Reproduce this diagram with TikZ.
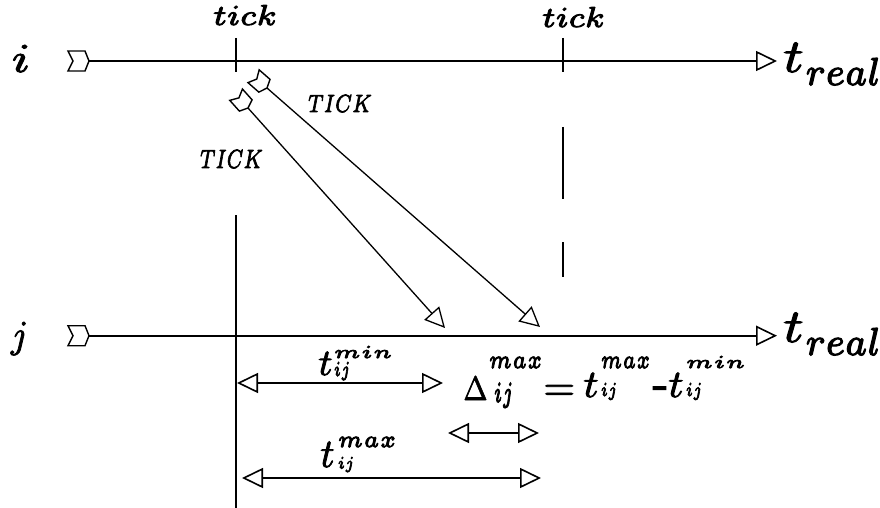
\documentclass[tikz,border=0pt]{standalone}
\usetikzlibrary{arrows.meta}
\newcommand{\rsz}[3]{\resizebox{#1pt}{#2pt}{#3}}
\newcommand{\piece}[3]{\makebox[0pt][l]{\hspace{#1pt}\raisebox{#2pt}{#3}}}
\newcommand{\hv}[1]{\special{pdf:literal direct 2 Tr 0.22 w}#1\special{pdf:literal direct 0 Tr}}
\begin{document}
\begin{tikzpicture}[x=1pt,y=-1pt,
  lbl/.style={inner sep=0pt, outer sep=0pt, anchor=base west},
  axisline/.style={line width=1.6pt, -{Triangle[open,length=21pt,width=20pt]}},
  msg/.style={line width=1.3pt, -{Triangle[open,length=20pt,width=20pt]}},
  dim/.style={line width=1.6pt, {Triangle[open,length=21pt,width=20pt]}-{Triangle[open,length=21pt,width=20pt]}},
  tickline/.style={line width=1.6pt},
  chev/.pic={\draw[line width=1.4pt, fill=white, line join=miter]
     (0,0) -- (-4,-10) -- (-21,-10) -- (-16,0) -- (-21,10) -- (-4,10) -- cycle;}
]
\useasboundingbox (0,0) rectangle (880,508);
\fill[white] (0,0) rectangle (880,508);

% time lines
\coordinate (i0) at (89,61);
\coordinate (i1) at (777,61);
\coordinate (j0) at (89,335.7);
\coordinate (j1) at (777,335.7);
\draw[axisline] (i0) -- (i1);
\draw[axisline] (j0) -- (j1);
\pic at (i0) {chev};
\pic at (j0) {chev};

% tick marks
\coordinate (ta) at (235.7,38);
\coordinate (tb) at (235.7,72);
\coordinate (tc) at (563,38);
\coordinate (td) at (563,72);
\draw[tickline] (ta) -- (tb);
\draw[tickline] (tc) -- (td);

% vertical reference lines
\coordinate (va) at (235.7,215);
\coordinate (vb) at (235.7,508);
\draw[tickline] (va) -- (vb);
\coordinate (da) at (563,127);
\coordinate (db) at (563,277);
\draw[tickline, dash pattern=on 72pt off 43pt] (da) -- (db);

% messages
\coordinate (s1) at (248,108);
\coordinate (e1) at (445,328);
\coordinate (s2) at (267,88);
\coordinate (e2) at (540,327);
\draw[msg] (s1) -- (e1);
\draw[msg] (s2) -- (e2);
\pic[rotate=-48.2, scale=0.85] at (s1) {chev};
\pic[rotate=-41.2, scale=0.85] at (s2) {chev};

% dimension arrows
\coordinate (m0) at (237,383);
\coordinate (m1) at (443,383);
\coordinate (x0) at (242,478);
\coordinate (x1) at (541,478);
\coordinate (d0) at (448,433);
\coordinate (d1) at (539,433);
\draw[dim] (m0) -- (m1);
\draw[dim] (x0) -- (x1);
\draw[dim] (d0) -- (d1);

% labels
\node[lbl] (li) at (12,72) {\hv{\rsz{18}{27}{$i$}}};
\node[lbl] (lj) at (11,347.5) {\hv{\rsz{17}{25.5}{$j$}}};
\node[lbl] (tk1) at (213,25) {\hv{\rsz{64}{20}{$\scriptstyle tick$}}};
\node[lbl] (tk2) at (542,27) {\hv{\rsz{63}{20}{$\scriptstyle tick$}}};
\node[lbl] (TK1) at (308,112) {\hv{\rsz{64}{17}{$\scriptstyle TICK$}}};
\node[lbl] (TK2) at (200,168) {\hv{\rsz{63}{18}{$\scriptstyle TICK$}}};
\node[lbl] (ri) at (783,72) {\hv{\piece{0}{0}{\rsz{20}{29}{$t$}}\piece{22}{-13}{\rsz{75}{27}{$\scriptstyle real$}}}};
\node[lbl] (rj) at (783,342) {\hv{\piece{0}{0}{\rsz{20}{29}{$t$}}\piece{22}{-13}{\rsz{75}{27}{$\scriptstyle real$}}}};

\node[lbl] (tmin) at (318,375) {\hv{\piece{0}{0}{\rsz{14}{23}{$t$}}\piece{15}{17}{\rsz{59}{12}{$\scriptscriptstyle min$}}\piece{15}{-1}{\rsz{17}{14}{$\scriptscriptstyle ij$}}}};
\node[lbl] (tmax) at (320,467) {\hv{\piece{0}{0}{\rsz{14}{25}{$t$}}\piece{17}{20}{\rsz{59}{10}{$\scriptscriptstyle max$}}\piece{17}{-1.6}{\rsz{17}{11.6}{$\scriptscriptstyle ij$}}}};

\node[lbl] (delta) at (463,400) {\hv{%
\piece{0}{0}{\rsz{24}{23}{$\Delta$}}%
\piece{25}{32}{\rsz{54}{11}{$\scriptscriptstyle max$}}%
\piece{30}{-2}{\rsz{20}{19.3}{$\scriptscriptstyle ij$}}%
\piece{80}{0}{\rsz{31.5}{14.9}{$=$}}%
\piece{120}{3}{\rsz{15}{24}{$t$}}%
\piece{137}{32}{\rsz{50}{11}{$\scriptscriptstyle max$}}%
\piece{137}{4}{\rsz{17}{13}{$\scriptscriptstyle ij$}}%
\piece{189}{1.5}{\resizebox{16pt}{!}{-}}%
\piece{205}{3}{\rsz{15}{24}{$t$}}%
\piece{222}{32}{\rsz{60}{12}{$\scriptscriptstyle min$}}%
\piece{222}{4}{\rsz{17}{13}{$\scriptscriptstyle ij$}}}};
\end{tikzpicture}
\end{document}
